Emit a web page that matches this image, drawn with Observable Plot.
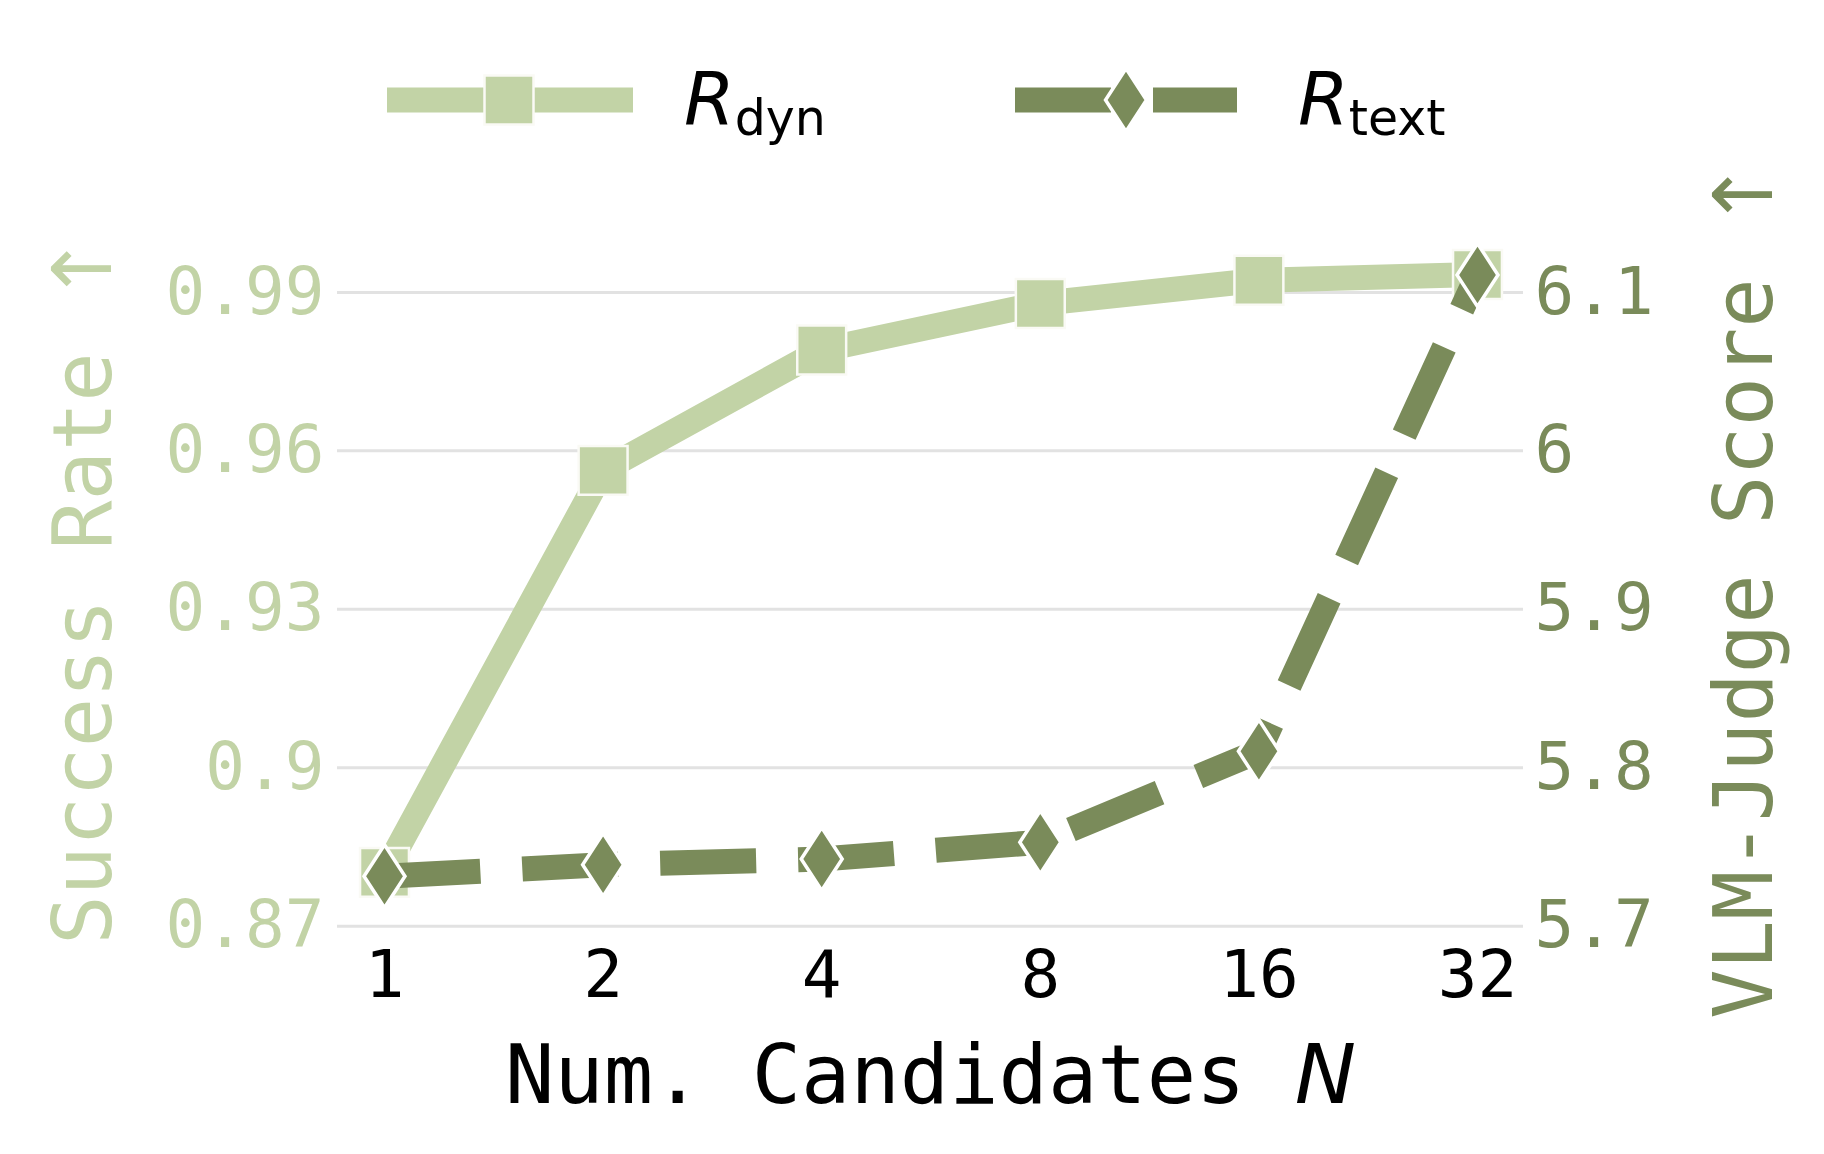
<!DOCTYPE html>
<html><head><meta charset="utf-8">
<script src="https://cdn.jsdelivr.net/npm/d3@7"></script>
<script src="https://cdn.jsdelivr.net/npm/@observablehq/plot@0.6"></script>
<style>
html,body{margin:0;padding:0;background:#fff;}
#legend,#chart{display:block;}
</style></head><body>
<div id="legend"></div>
<div id="chart"></div>
<script>
// ---- data ----
const candidates = [1, 2, 4, 8, 16, 32];
const successRate = [0.8802, 0.9563, 0.9791, 0.9879, 0.9923, 0.9934];   // R_dyn (left axis)
const vlmScore = [5.7315, 5.7388, 5.7424, 5.7530, 5.8104, 6.1110];      // R_text (right axis)
const xTickLabels = ["1", "2", "4", "8", "16", "32"];
const leftTicks = [0.87, 0.9, 0.93, 0.96, 0.99];
const leftTickLabels = ["0.87", "0.9", "0.93", "0.96", "0.99"];
const rightTicks = [5.7, 5.8, 5.9, 6, 6.1];
const rightTickLabels = ["5.7", "5.8", "5.9", "6", "6.1"];
const seriesSubscripts = ["dyn", "text"];
const leftLabel = "Success Rate ↑";
const rightLabel = "VLM-Judge Score ↑";
const xLabel = "Num. Candidates N";

const light = "#c2d3a6";
const dark = "#7a8b5a";

// right axis aligned to the left one: 5.7 <-> 0.87, 6.1 <-> 0.99
const toY = s => leftTicks[0] + (s - rightTicks[0]) * (leftTicks[4] - leftTicks[0]) / (rightTicks[4] - rightTicks[0]);
const rightTickY = rightTicks.map(toY);

const dynData = candidates.map((n, i) => ({n, v: successRate[i]}));
const textData = candidates.map((n, i) => ({n, v: toY(vlmScore[i])}));

const thinDiamond = {
  draw(ctx, size) {
    const r = Math.sqrt(size / Math.PI), w = r * 0.65;
    ctx.moveTo(0, -r); ctx.lineTo(w, 0); ctx.lineTo(0, r); ctx.lineTo(-w, 0); ctx.closePath();
  }
};

const mono = "'DejaVu Sans Mono', monospace";
const sans = "'DejaVu Sans', sans-serif";

const plot = Plot.plot({
  width: 1824, height: 994,
  marginLeft: 337, marginRight: 301, marginTop: 78, marginBottom: 214,
  style: {fontFamily: mono, background: "white", overflow: "visible"},
  x: {type: "log", base: 2, domain: [1, 32], insetLeft: 47, insetRight: 46},
  y: {domain: [0.8673, 1.0002]},
  marks: [
    Plot.gridY(leftTicks, {stroke: "#e2e2e2", strokeOpacity: 1, strokeWidth: 3}),
    Plot.axisX(candidates, {
      tickSize: 0, tickPadding: 10, fontSize: 66, color: "black",
      tickFormat: d => xTickLabels[candidates.indexOf(d)],
      label: xLabel, labelAnchor: "center", labelOffset: 162, labelArrow: "none"
    }),
    Plot.axisY(leftTicks, {
      anchor: "left", tickSize: 0, tickPadding: 13, fontSize: 66, color: light,
      tickFormat: d => leftTickLabels[leftTicks.indexOf(d)],
      label: leftLabel, labelAnchor: "center", labelOffset: 285, labelArrow: "none"
    }),
    Plot.axisY(rightTickY, {
      anchor: "right", tickSize: 0, tickPadding: 11, fontSize: 66, color: dark,
      tickFormat: d => rightTickLabels[rightTickY.indexOf(d)],
      label: rightLabel, labelAnchor: "center", labelOffset: 248, labelArrow: "none"
    }),
    Plot.line(dynData, {x: "n", y: "v", stroke: light, strokeWidth: 25, strokeLinecap: "butt", strokeLinejoin: "round"}),
    Plot.dot(dynData, {x: "n", y: "v", symbol: "square", r: 27.6, fill: light, stroke: "#fafaf5", strokeWidth: 2.5}),
    Plot.line(textData, {x: "n", y: "v", stroke: dark, strokeWidth: 25, strokeDasharray: "96,42", strokeLinecap: "butt", strokeLinejoin: "round"}),
    Plot.dot(textData, {x: "n", y: "v", symbol: thinDiamond, r: 31.5, fill: dark, stroke: "white", strokeWidth: 3.5})
  ]
});
document.getElementById("chart").appendChild(plot);

// axis label styling: bigger labels, arrow in DejaVu Sans, italic N
const ps = d3.select(plot);
ps.selectAll('g[aria-label="y-axis label"]').attr("font-size", 82);
ps.selectAll('g[aria-label="y-axis label"] text').each(function() {
  const t = d3.select(this);
  const s = t.text();
  t.attr("font-size", 82).text(null);
  t.append("tspan").text(s.slice(0, -1));
  t.append("tspan").attr("font-family", sans).text(s.slice(-1));
});
const xl = ps.select('g[aria-label="x-axis label"]').attr("font-size", 82).attr("fill", "black");
xl.selectAll("text").each(function() {
  const t = d3.select(this);
  const s = t.text();
  t.attr("font-size", 82).text(null);
  t.append("tspan").text(s.slice(0, -1));
  t.append("tspan").attr("font-family", sans).attr("font-style", "italic").text(s.slice(-1));
});

// ---- legend (above the plot) ----
const lg = d3.select("#legend").append("svg").attr("width", 1824).attr("height", 160).style("display", "block");
function legendItem(x0, x1, mx, tx, color, dashed, isDiamond, sub) {
  const ln = lg.append("line").attr("x1", x0).attr("x2", x1).attr("y1", 100).attr("y2", 100)
    .attr("stroke", color).attr("stroke-width", 25);
  if (dashed) ln.attr("stroke-dasharray", "96,42");
  if (isDiamond) {
    const r = 31.5, w = r * 0.65;
    lg.append("path").attr("d", `M${mx},${100 - r}L${mx + w},100L${mx},${100 + r}L${mx - w},100Z`)
      .attr("fill", color).attr("stroke", "white").attr("stroke-width", 3.5);
  } else {
    lg.append("rect").attr("x", mx - 24.5).attr("y", 75.5).attr("width", 49).attr("height", 49)
      .attr("fill", color).attr("stroke", "#fafaf5").attr("stroke-width", 2.5);
  }
  const t = lg.append("text").attr("x", tx).attr("y", 125).attr("font-family", sans)
    .attr("font-size", 73).attr("fill", "black");
  t.append("tspan").attr("font-style", "italic").text("R");
  t.append("tspan").attr("font-size", 49).attr("dy", 10).text(sub);
}
legendItem(387, 633, 509, 684, light, false, false, seriesSubscripts[0]);
legendItem(1015, 1237, 1126, 1298, dark, true, true, seriesSubscripts[1]);
</script>
</body></html>
